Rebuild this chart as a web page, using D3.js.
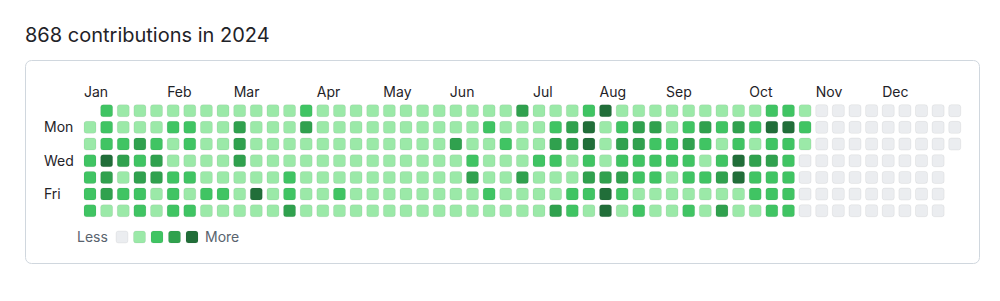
<!DOCTYPE html>
<html><head><meta charset="utf-8">
<script src="https://cdn.jsdelivr.net/npm/d3@7"></script>
<style>
html,body{margin:0;padding:0;background:#fff;}
svg{display:block;font-family:Inter,"Liberation Sans",sans-serif;}
</style></head>
<body>
<svg id="chart" width="1000" height="301"></svg>
<script>
const title = "868 contributions in 2024";
const months = ["Jan","Feb","Mar","Apr","May","Jun","Jul","Aug","Sep","Oct","Nov","Dec"];
const dayLabels = ["","Mon","","Wed","","Fri",""];
const levelColors = ["#ebedf0","#9be9a8","#40c463","#30a14e","#216e39"];
const legendLevels = [0,1,2,3,4];
const N = null;
// contribution level per weekday row (Sun..Sat), 53 weeks each; null = outside 2024
const sun = [N,2,1,1,1,1,1,1,1, 1,1,1,1,2,1,1,1,1, 1,1,1,1,1,1,1,1,3, 1,1,1,2,4,1,1,1,1, 1,1,1,1,1,2,2,1, 0,0,0,0,0,0,0,0,0];
const mon = [1,2,1,1,1,2,2,1,1, 3,1,1,1,3,1,1,1,1, 1,1,1,1,1,1,2,1,1, 1,2,3,4,1,2,3,3,1, 2,3,2,3,2,4,4,2, 0,0,0,0,0,0,0,0,0];
const tue = [1,2,2,3,2,1,2,1,1, 3,1,1,1,1,1,1,1,1, 1,1,1,1,3,1,1,2,1, 1,3,3,4,1,3,3,2,2, 3,2,1,2,1,2,2,1, 0,0,0,0,0,0,0,0,0];
const wed = [2,4,3,2,3,1,1,1,1, 3,1,1,1,1,1,1,1,1, 1,1,1,1,1,2,1,1,1, 2,2,1,2,1,2,2,2,2, 2,1,2,4,3,3,2,0, 0,0,0,0,0,0,0,0,N];
const thu = [2,3,1,3,3,2,2,1,1, 1,1,1,2,1,1,1,1,1, 1,1,1,1,1,3,1,1,3, 1,1,1,3,3,3,2,2,1, 2,2,3,4,2,2,2,0, 0,0,0,0,0,0,0,0,N];
const fri = [2,3,2,2,1,2,1,2,2, 1,4,1,2,1,1,2,1,1, 1,1,1,1,1,1,2,1,1, 1,1,2,2,4,2,1,1,1, 1,1,1,1,2,2,2,0, 0,0,0,0,0,0,0,0,N];
const sat = [2,1,1,2,1,2,2,1,1, 1,1,1,3,1,1,1,1,1, 1,1,1,1,1,1,1,1,1, 1,3,2,1,4,1,2,1,1, 2,1,3,1,1,2,2,0, 0,0,0,0,0,0,0,0,N];
const rows = [sun,mon,tue,wed,thu,fri,sat];

const svg = d3.select("#chart");
const textColor = "#1f2328";

svg.append("text").attr("x",25).attr("y",42).attr("font-size",20).attr("fill",textColor).text(title);
svg.append("rect").attr("x",25.5).attr("y",60.5).attr("width",954).attr("height",203).attr("rx",6)
  .attr("fill","#fff").attr("stroke","#d0d7de");

const cell = 12;
function band(domain, start, step){
  return d3.scaleBand().domain(domain)
    .range([start, start + step*(domain.length-1) + cell])
    .paddingInner(1 - cell/step).paddingOuter(0).align(0);
}
const weeks = d3.range(53);
const x = band(weeks, 84, 16.63);
const y = band(d3.range(7), 104.7, 16.67);

const cells = [];
rows.forEach((r,d)=>r.forEach((v,w)=>{ if(v!==null) cells.push({w,d,v}); }));

svg.append("g").selectAll("rect").data(cells).join("rect")
  .attr("x",c=>x(c.w)).attr("y",c=>y(c.d))
  .attr("width",x.bandwidth()).attr("height",y.bandwidth())
  .attr("rx",2.5).attr("fill",c=>levelColors[c.v])
  .attr("stroke","rgba(27,31,35,0.06)").attr("stroke-width",1);

// month labels: first week whose Sunday falls in the month (first column always labelled)
const start = new Date(2023,11,31);
const monthWeek = months.map((m,i)=>{
  if(i===0) return 0;
  const firstSun = d3.timeSunday.ceil(new Date(2024,i,1));
  return d3.timeSunday.count(start, firstSun);
});
svg.append("g").selectAll("text").data(months).join("text")
  .attr("x",(m,i)=>x(monthWeek[i])).attr("y",97)
  .attr("font-size",14).attr("fill",textColor).text(m=>m);

svg.append("g").selectAll("text").data(dayLabels).join("text")
  .attr("x",44).attr("y",(t,i)=>y(i)+y.bandwidth()/2).attr("dy","0.35em")
  .attr("font-size",14).attr("fill",textColor).text(t=>t);

// legend
const lg = svg.append("g");
lg.append("text").attr("x",77).attr("y",237).attr("dy","0.35em").attr("font-size",14).attr("fill","#59636e").text("Less");
const lx = band(legendLevels, 116, 17.5);
lg.selectAll("rect").data(legendLevels).join("rect")
  .attr("x",l=>lx(l)).attr("y",231).attr("width",lx.bandwidth()).attr("height",12)
  .attr("rx",2.5).attr("fill",l=>levelColors[l]).attr("stroke","rgba(27,31,35,0.06)");
lg.append("text").attr("x",205).attr("y",237).attr("dy","0.35em").attr("font-size",14).attr("fill","#59636e").text("More");
</script>
</body></html>
